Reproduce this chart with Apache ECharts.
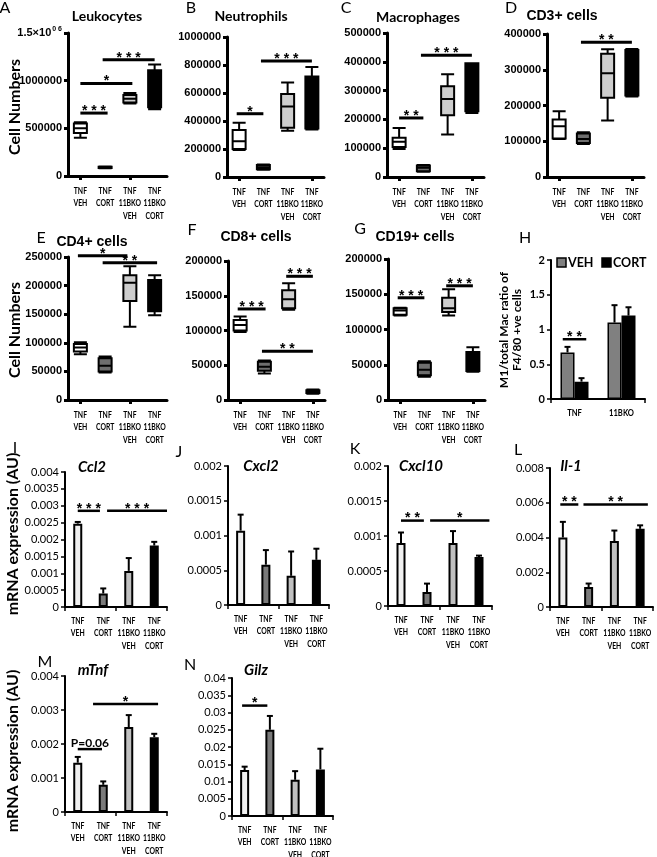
<!DOCTYPE html>
<html><head><meta charset="utf-8">
<script src="https://cdn.jsdelivr.net/npm/echarts@6/dist/echarts.min.js"></script>
<style>html,body{margin:0;padding:0;background:#fff}#c{width:657px;height:857px}</style>
</head><body><div id="c"></div>
<script>
// ================= DATA =================
const groups = ['TNF\nVEH', 'TNF\nCORT', 'TNF\n11BKO\nVEH', 'TNF\n11BKO\nCORT'];
const hGroups = ['TNF', '11BKO'];
const hSeriesNames = ['VEH', 'CORT'];

// box plots: [min, Q1, median, Q3, max]
const leukocytes = [[400000,450000,500000,550000,565000],[80000,85000,90000,97000,100000],[760000,770000,810000,850000,870000],[700000,720000,950000,1110000,1170000]];
const neutrophils = [[193000,200000,256000,335000,388000],[52000,55000,70000,85000,90000],[330000,351000,503000,593000,675000],[339000,346000,500000,718000,786000]];
const macrophages = [[97000,104000,122000,136000,170000],[18000,20000,32000,40000,42000],[148000,214000,271000,315000,357000],[222000,228000,300000,395000,395000]];
const cd3 = [[106000,108000,142000,161000,184000],[92000,95000,106000,122000,125000],[158000,222000,290000,345000,357000],[225000,228000,300000,355000,358000]];
const cd4 = [[80000,85000,92000,98000,101000],[48000,50000,60000,73000,76000],[128000,173000,205000,218000,234000],[148000,155000,190000,210000,218000]];
const cd8 = [[98000,100000,108000,115000,120000],[38000,42000,48000,55000,57000],[130000,132000,145000,158000,168000],[9000,10000,12000,14000,15000]];
const cd19 = [[120000,121000,127000,130000,131000],[33000,35000,43000,53000,55000],[120000,125000,130000,145000,157000],[40000,41000,55000,68000,75000]];

// H: M1/total Mac ratio
const m1VEH = [0.67, 1.1];
const m1VEHerr = [0.08, 0.25];
const m1CORT = [0.25, 1.2];
const m1CORTerr = [0.05, 0.12];

// mRNA bar charts (mean, upper error)
const ccl2 = [0.00247, 0.0004, 0.00107, 0.00182];
const ccl2Err = [0.00005, 0.00015, 0.00038, 0.00011];
const cxcl2 = [0.00107, 0.00058, 0.00042, 0.00065];
const cxcl2Err = [0.00023, 0.00021, 0.00035, 0.00016];
const cxcl10 = [0.0009, 0.0002, 0.0009, 0.0007];
const cxcl10Err = [0.00015, 0.00012, 0.00017, 0.00002];
const il1 = [0.004, 0.00115, 0.0038, 0.0045];
const il1Err = [0.0009, 0.0002, 0.0006, 0.0002];
const mtnf = [0.00145, 0.0008, 0.0025, 0.0022];
const mtnfErr = [0.00017, 0.0001, 0.00035, 0.0001];
const gilz = [0.0133, 0.025, 0.0105, 0.0135];
const gilzErr = [0.001, 0.004, 0.0025, 0.006];

// significance brackets: [from (category position), to, value, label]
const sigA = [[0,1.1,660000,'***'],[0,2.1,970000,'*'],[0.9,3,1220000,'***']];
const sigB = [[-0.1,1,452000,'*'],[0.9,3,828000,'***']];
const sigC = [[0,1,205000,'**'],[0.9,3,423000,'***']];
const sigD = [[0.9,3,377000,'**']];
const sigE = [[-0.1,1.9,252000,'*'],[0.9,3.1,240000,'**']];
const sigF = [[-0.1,1.05,131000,'***'],[1.9,3,178000,'***'],[0.9,3,70000,'**']];
const sigG = [[-0.1,1,145000,'***'],[1.9,3,162000,'***']];
const sigH = [[-0.25,0.25,0.86,'**']];
const sigI = [[0,0.87,0.00285,'***'],[1.15,3.5,0.00285,'***']];
const sigK = [[0,0.88,0.00122,'**'],[1.12,3.4,0.00122,'*']];
const sigL = [[-0.1,0.6,0.0059,'**'],[0.8,3.3,0.0059,'**']];
const sigM = [[0,0.95,0.00185,'P=0.06'],[0.6,3.15,0.00318,'*']];
const sigN = [[-0.1,0.9,0.032,'*']];

// ================= STYLE =================
const boxColors = ['#ffffff', '#6e6e6e', '#cdcdcd', '#000000'];
const barColors = ['#f0f0f0', '#7a7a7a', '#c0c0c0', '#000000'];
const FG = '"Liberation Sans", Arial, sans-serif';
const FX = 'Lato, "Liberation Sans", sans-serif';

const grids = [], xAxes = [], yAxes = [], series = [], graphics = [];

function xAt(api, f, y) {
  const i = Math.round(f);
  const p = api.coord([i, y]);
  const bw = api.size([1, 0])[0];
  return [p[0] + (f - i) * bw, p[1]];
}
function starText(s) { return s.charAt(0) === '*' ? s.split('').join(' ') : s; }
function sigRender(sig, lw) {
  return function (params, api) {
    const s = sig[params.dataIndex];
    const p1 = xAt(api, s[0], s[2]), p2 = xAt(api, s[1], s[2]);
    const isStar = s[3].charAt(0) === '*';
    return { type: 'group', children: [
      { type: 'line', shape: { x1: p1[0], y1: p1[1], x2: p2[0], y2: p2[1] }, style: { stroke: '#000', lineWidth: lw } },
      { type: 'text', x: (p1[0] + p2[0]) / 2, y: p1[1] + (isStar ? 5 : 0), style: {
        text: starText(s[3]), align: 'center', verticalAlign: 'bottom',
        font: isStar ? ('bold 14px ' + FG) : ('bold 12px ' + FX), fill: '#000' } }
    ]};
  };
}
function errRender(offsetPx) {
  return function (params, api) {
    const b = api.coord([api.value(0), api.value(1)]);
    const t = api.coord([api.value(0), api.value(2)]);
    const x = b[0] + offsetPx;
    return { type: 'group', children: [
      { type: 'line', shape: { x1: x, y1: b[1], x2: x, y2: t[1] }, style: { stroke: '#000', lineWidth: 2 } },
      { type: 'line', shape: { x1: x - 3, y1: t[1], x2: x + 3, y2: t[1] }, style: { stroke: '#000', lineWidth: 2 } }
    ]};
  };
}
function catLabelRender(cats, dy, size) {
  return function (params, api) {
    const p = api.coord([api.value(0), 0]);
    return { type: 'text', x: p[0], y: p[1] + dy, scaleX: 0.76, style: {
      text: cats[params.dataIndex], align: 'center', verticalAlign: 'top',
      font: 'bold ' + size + 'px ' + FX, lineHeight: 12.3, fill: '#000' } };
  };
}

function addPanel(p) {
  const gi = grids.length;
  const gp = p.style === 'gp';
  grids.push({ left: p.left, top: p.top, width: p.width, height: p.height, outerBoundsMode: 'none', containLabel: false });
  const xc = xAxes.length;
  xAxes.push({
    type: 'category', gridIndex: gi, data: p.cats, boundaryGap: true,
    axisLine: { show: true, onZero: false, lineStyle: { color: '#000', width: gp ? 3 : 2 } },
    axisTick: { show: true, alignWithLabel: gp, length: 4, lineStyle: { color: '#000', width: gp ? 3 : 1.5 } },
    axisLabel: { show: false },
    splitLine: { show: false }
  });
  const yi = yAxes.length;
  yAxes.push({
    type: 'value', gridIndex: gi, min: 0, max: p.yMax, interval: p.yInt,
    axisLine: { show: true, onZero: false, lineStyle: { color: '#000', width: gp ? 3 : 2 } },
    axisTick: { show: true, length: 4, lineStyle: { color: '#000', width: gp ? 3 : 1.5 } },
    splitLine: { show: false },
    axisLabel: {
      showMinLabel: true, showMaxLabel: true, margin: 6, color: '#000',
      fontFamily: gp ? FG : FX, fontWeight: (gp || p.boldTicks) ? 'bold' : 'normal', fontSize: 11,
      formatter: p.fmt || (v => String(v)),
      rich: p.rich
    }
  });
  // category labels (condensed text)
  series.push({
    type: 'custom', xAxisIndex: xc, yAxisIndex: yi, silent: true, clip: false,
    renderItem: catLabelRender(p.cats, gp ? 9 : 8, p.catSize || 9),
    encode: { x: 0, y: 1 },
    data: p.cats.map((c, i) => [i, 0])
  });
  if (p.box) {
    series.push({
      type: 'boxplot', xAxisIndex: xc, yAxisIndex: yi, boxWidth: [13, 13], silent: true,
      itemStyle: { borderColor: '#000', borderWidth: 2 },
      data: p.box.map((v, i) => ({ value: v, itemStyle: { color: boxColors[i], borderColor: '#000', borderWidth: 2 } }))
    });
  }
  if (p.bars) {
    series.push({
      type: 'bar', xAxisIndex: xc, yAxisIndex: yi, barWidth: 9, silent: true,
      data: p.bars.map((v, i) => ({ value: v, itemStyle: { color: barColors[i], borderColor: '#000', borderWidth: 2 } }))
    });
    series.push({
      type: 'custom', xAxisIndex: xc, yAxisIndex: yi, renderItem: errRender(0), silent: true,
      encode: { x: 0, y: [1, 2] },
      data: p.bars.map((v, i) => [i, v, v + p.errs[i]])
    });
  }
  if (p.sig) {
    series.push({
      type: 'custom', xAxisIndex: xc, yAxisIndex: yi, silent: true, z: 5, clip: false,
      renderItem: sigRender(p.sig, gp ? 3 : 2.5),
      encode: { x: 0, y: 1 },
      data: p.sig.map(s => [Math.max(0, Math.round(s[0])), s[2]])
    });
  }
  if (p.title) {
    graphics.push({ type: 'text', x: p.tx, y: p.ty, style: { text: p.title, align: 'center', verticalAlign: 'middle', font: p.tFont, fill: '#000' } });
  }
  graphics.push({ type: 'text', x: p.lx, y: p.ly, style: { text: p.letter, align: 'center', verticalAlign: 'middle', font: '16px ' + FX, fill: '#000' } });
  return { gi, xc, yi };
}

const tGP1 = 'bold 14px ' + FX;
const tGP2 = 'bold 14px ' + FG;
const tXL = 'italic bold 15px ' + FX;

addPanel({ style: 'gp', left: 68, top: 33, width: 99, height: 143, yMax: 1500000, yInt: 500000, cats: groups, box: leukocytes, sig: sigA,
  title: 'Leukocytes', tx: 107, ty: 16, tFont: tGP1, letter: 'A', lx: 5, ly: 8,
  fmt: v => v === 1500000 ? '{a|1.5×10}{s|0 6}' : String(v),
  rich: { a: { fontFamily: FG, fontWeight: 'bold', fontSize: 11, color: '#000' }, s: { fontFamily: FG, fontWeight: 'bold', fontSize: 7, color: '#000', padding: [0, 0, 7, 1] } } });
addPanel({ style: 'gp', left: 227, top: 37, width: 97, height: 140, yMax: 1000000, yInt: 200000, cats: groups, box: neutrophils, sig: sigB,
  title: 'Neutrophils', tx: 251, ty: 16, tFont: tGP1, letter: 'B', lx: 191, ly: 8 });
addPanel({ style: 'gp', left: 387, top: 33, width: 97, height: 144, yMax: 500000, yInt: 100000, cats: groups, box: macrophages, sig: sigC,
  title: 'Macrophages', tx: 418, ty: 17, tFont: tGP1, letter: 'C', lx: 346, ly: 8 });
addPanel({ style: 'gp', left: 547, top: 34, width: 97, height: 143, yMax: 400000, yInt: 100000, cats: groups, box: cd3, sig: sigD,
  title: 'CD3+ cells', tx: 562, ty: 16, tFont: tGP2, letter: 'D', lx: 511, ly: 8 });

addPanel({ style: 'gp', left: 68, top: 257, width: 99, height: 143, yMax: 250000, yInt: 50000, cats: groups, box: cd4, sig: sigE,
  title: 'CD4+ cells', tx: 92, ty: 242, tFont: tGP2, letter: 'E', lx: 41, ly: 238 });
addPanel({ style: 'gp', left: 228, top: 261, width: 97, height: 139, yMax: 200000, yInt: 50000, cats: groups, box: cd8, sig: sigF,
  title: 'CD8+ cells', tx: 256, ty: 237, tFont: tGP2, letter: 'F', lx: 192, ly: 230 });
addPanel({ style: 'gp', left: 388, top: 259, width: 97, height: 141, yMax: 200000, yInt: 50000, cats: groups, box: cd19, sig: sigG,
  title: 'CD19+ cells', tx: 415, ty: 237, tFont: tGP2, letter: 'G', lx: 360, ly: 229 });

// H panel (grouped bars)
const h = addPanel({ style: 'xl', left: 551, top: 260, width: 94, height: 139, yMax: 2, yInt: 0.5, cats: hGroups, sig: sigH,
  boldTicks: true, letter: 'H', lx: 525, ly: 238, catSize: 10 });
series.push({ name: hSeriesNames[0], type: 'bar', xAxisIndex: h.xc, yAxisIndex: h.yi, barWidth: 14, barGap: '0%', silent: true,
  itemStyle: { color: '#808080', borderColor: '#000', borderWidth: 1.5 }, data: m1VEH });
series.push({ name: hSeriesNames[1], type: 'bar', xAxisIndex: h.xc, yAxisIndex: h.yi, barWidth: 14, barGap: '0%', silent: true,
  itemStyle: { color: '#000', borderColor: '#000', borderWidth: 1.5 }, data: m1CORT });
series.push({ type: 'custom', xAxisIndex: h.xc, yAxisIndex: h.yi, renderItem: errRender(-7), silent: true, encode: { x: 0, y: [1, 2] },
  data: m1VEH.map((v, i) => [i, v, v + m1VEHerr[i]]) });
series.push({ type: 'custom', xAxisIndex: h.xc, yAxisIndex: h.yi, renderItem: errRender(7), silent: true, encode: { x: 0, y: [1, 2] },
  data: m1CORT.map((v, i) => [i, v, v + m1CORTerr[i]]) });
// legend for H
graphics.push({ type: 'rect', shape: { x: 557, y: 258, width: 9, height: 9 }, style: { fill: '#808080', stroke: '#000', lineWidth: 1.5 } });
graphics.push({ type: 'text', x: 568, y: 263, style: { text: hSeriesNames[0], align: 'left', verticalAlign: 'middle', font: 'bold 12.5px ' + FX, fill: '#000' } });
graphics.push({ type: 'rect', shape: { x: 602, y: 258, width: 9, height: 9 }, style: { fill: '#000', stroke: '#000', lineWidth: 1.5 } });
graphics.push({ type: 'text', x: 613, y: 263, style: { text: hSeriesNames[1], align: 'left', verticalAlign: 'middle', font: 'bold 12.5px ' + FX, fill: '#000' } });

addPanel({ style: 'xl', left: 65, top: 472, width: 102, height: 135, yMax: 0.004, yInt: 0.0005, cats: groups, bars: ccl2, errs: ccl2Err, sig: sigI,
  title: 'Ccl2', tx: 92, ty: 467, tFont: tXL, letter: 'I', lx: 15, ly: 448 });
addPanel({ style: 'xl', left: 228, top: 466, width: 101, height: 139, yMax: 0.002, yInt: 0.0005, cats: groups, bars: cxcl2, errs: cxcl2Err,
  title: 'Cxcl2', tx: 261, ty: 466, tFont: tXL, letter: 'J', lx: 179, ly: 452 });
addPanel({ style: 'xl', left: 388, top: 466, width: 104, height: 140, yMax: 0.002, yInt: 0.0005, cats: groups, bars: cxcl10, errs: cxcl10Err, sig: sigK,
  title: 'Cxcl10', tx: 421, ty: 466, tFont: tXL, letter: 'K', lx: 355, ly: 449 });
addPanel({ style: 'xl', left: 550, top: 468, width: 103, height: 139, yMax: 0.008, yInt: 0.002, cats: groups, bars: il1, errs: il1Err, sig: sigL,
  title: 'Il-1', tx: 571, ty: 466, tFont: tXL, letter: 'L', lx: 518, ly: 450 });
addPanel({ style: 'xl', left: 65, top: 676, width: 102, height: 136, yMax: 0.004, yInt: 0.001, cats: groups, bars: mtnf, errs: mtnfErr, sig: sigM,
  title: 'mTnf', tx: 93, ty: 670, tFont: tXL, letter: 'M', lx: 45, ly: 662 });
addPanel({ style: 'xl', left: 232, top: 678, width: 101, height: 138, yMax: 0.04, yInt: 0.005, cats: groups, bars: gilz, errs: gilzErr, sig: sigN,
  title: 'Gilz', tx: 256, ty: 670, tFont: tXL, letter: 'N', lx: 190, ly: 665 });

// axis names (rotated)
function vName(text, x, y, font) {
  graphics.push({ type: 'text', x: x, y: y, rotation: Math.PI / 2, style: { text: text, align: 'center', verticalAlign: 'middle', font: font, fill: '#000', lineHeight: 13 } });
}
vName('Cell Numbers', 15, 107, 'bold 16px ' + FX);
vName('Cell Numbers', 15, 330, 'bold 16px ' + FX);
vName('mRNA expression (AU)', 13, 534, 'bold 16px ' + FX);
vName('mRNA expression (AU)', 13, 751, 'bold 16px ' + FX);
vName('M1/total Mac ratio of\nF4/80 +ve cells', 511, 330, 'bold 12px ' + FX);

const chart = echarts.init(document.getElementById('c'), null, { renderer: 'canvas' });
chart.setOption({
  animation: false,
  backgroundColor: '#fff',
  grid: grids, xAxis: xAxes, yAxis: yAxes, series: series, graphic: graphics
});
</script>
</body></html>
